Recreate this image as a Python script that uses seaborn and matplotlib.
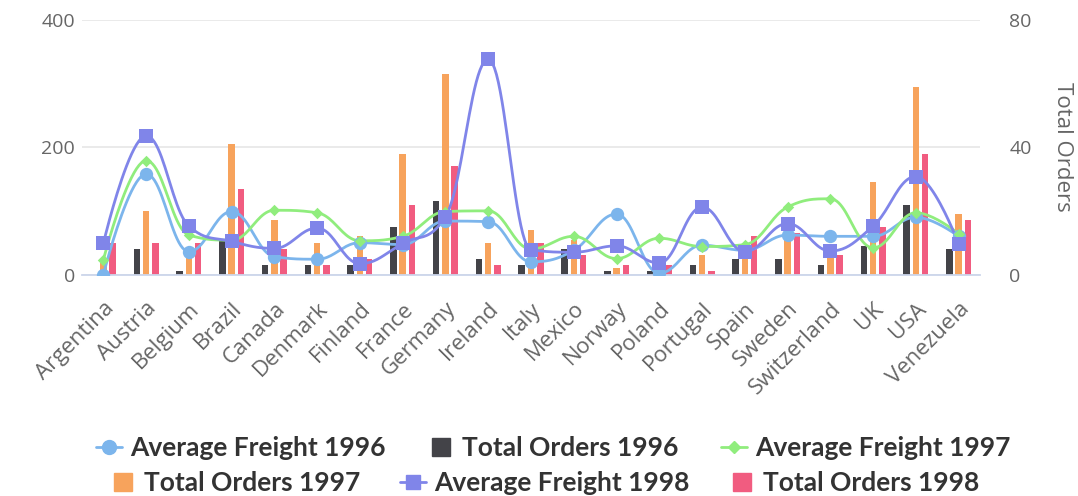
import numpy as np
import pandas as pd
import seaborn as sns
import matplotlib.pyplot as plt
from matplotlib.lines import Line2D

countries = ["Argentina", "Austria", "Belgium", "Brazil", "Canada", "Denmark", "Finland",
             "France", "Germany", "Ireland", "Italy", "Mexico", "Norway", "Poland",
             "Portugal", "Spain", "Sweden", "Switzerland", "UK", "USA", "Venezuela"]
freight_1996 = [0, 158, 36, 99, 28, 24, 50, 47, 84, 83, 20, 38, 95, 2, 46, 38, 62, 60, 60, 90, 60]
freight_1997 = [23, 179, 62, 54, 101, 97, 53, 60, 99, 100, 40, 60, 25, 57, 44, 47, 106, 119, 42, 97, 64]
freight_1998 = [49, 218, 76, 52, 41, 73, 17, 49, 91, 338, 39, 35, 45, 18, 106, 36, 80, 37, 76, 154, 48]
orders_1996 = [0, 8, 1, 11, 3, 3, 3, 15, 23, 5, 3, 8, 1, 1, 3, 5, 5, 3, 9, 22, 8]
orders_1997 = [5, 20, 6, 41, 17, 10, 12, 38, 63, 10, 14, 11, 2, 1, 6, 5, 14, 7, 29, 59, 19]
orders_1998 = [10, 10, 10, 27, 8, 3, 5, 22, 34, 3, 10, 6, 3, 3, 1, 12, 13, 6, 15, 38, 17]

c_af96, c_to96 = "#7cb5ec", "#434348"
c_af97, c_to97 = "#90ed7d", "#f7a35c"
c_af98, c_to98 = "#8085e9", "#f15c80"


def spline(ys, steps=24):
    # highcharts-like spline through the points
    xs = np.arange(len(ys), dtype=float)
    ys = np.asarray(ys, dtype=float)
    n = len(ys)
    sm = 1.5
    left = [None] * n
    right = [None] * n
    for i in range(1, n - 1):
        px, py = xs[i], ys[i]
        lx, ly = xs[i - 1], ys[i - 1]
        nx, ny = xs[i + 1], ys[i + 1]
        lcx = (sm * px + lx) / (sm + 1)
        lcy = (sm * py + ly) / (sm + 1)
        rcx = (sm * px + nx) / (sm + 1)
        rcy = (sm * py + ny) / (sm + 1)
        corr = ((rcy - lcy) * (rcx - px)) / (rcx - lcx) + py - rcy
        lcy += corr
        rcy += corr
        if lcy > ly and lcy > py:
            lcy = max(ly, py); rcy = 2 * py - lcy
        elif lcy < ly and lcy < py:
            lcy = min(ly, py); rcy = 2 * py - lcy
        if rcy > ny and rcy > py:
            rcy = max(ny, py); lcy = 2 * py - rcy
        elif rcy < ny and rcy < py:
            rcy = min(ny, py); lcy = 2 * py - rcy
        left[i] = (lcx, lcy)
        right[i] = (rcx, rcy)
    t = np.linspace(0, 1, steps)[:, None]
    out = []
    for i in range(n - 1):
        p0 = np.array([xs[i], ys[i]])
        p3 = np.array([xs[i + 1], ys[i + 1]])
        p1 = np.array(right[i]) if right[i] is not None else p0
        p2 = np.array(left[i + 1]) if left[i + 1] is not None else p3
        seg = ((1 - t) ** 3) * p0 + 3 * ((1 - t) ** 2) * t * p1 + 3 * (1 - t) * t ** 2 * p2 + t ** 3 * p3
        out.append(seg if i == 0 else seg[1:])
    out = np.vstack(out)
    return out[:, 0], out[:, 1]


sns.set_style("white")
plt.rcParams["font.family"] = ["Open Sans", "DejaVu Sans"]

fig = plt.figure(figsize=(10.78, 4.96), dpi=100)
ax = fig.add_axes([82 / 1078, 1 - 274.5 / 496, 898 / 1078, 254.5 / 496])

orders = pd.DataFrame({
    "country": countries * 3,
    "year": ["1996"] * 21 + ["1997"] * 21 + ["1998"] * 21,
    "orders": orders_1996 + orders_1997 + orders_1998,
})
sns.barplot(data=orders, x="country", y="orders", hue="year",
            palette=[c_to96, c_to97, c_to98], saturation=1, width=0.65, gap=0.3,
            linewidth=0, legend=False, ax=ax)

ax2 = ax.twinx()
for vals, col, mk, size in [(freight_1996, c_af96, "o", 92),
                            (freight_1997, c_af97, "D", 34),
                            (freight_1998, c_af98, "s", 112)]:
    cx, cy = spline(vals)
    sns.lineplot(x=cx, y=cy, sort=False, estimator=None, color=col, lw=2.0, ax=ax2)
    sns.scatterplot(x=np.arange(len(vals)), y=vals, marker=mk, s=size, color=col,
                    linewidth=0, ax=ax2, zorder=3)

ax.set_xlim(-0.5, 20.5)
ax.set_ylim(0, 80)
ax2.set_ylim(0, 400)

# bars axis on right, freight axis on left
ax.yaxis.tick_right()
ax.yaxis.set_label_position("right")
ax2.yaxis.tick_left()
ax.set_yticks([0, 40, 80])
ax2.set_yticks([0, 200, 400])
ax.tick_params(axis="y", length=0, labelsize=14, labelcolor="#666666", pad=21)
ax2.tick_params(axis="y", length=0, labelsize=14, labelcolor="#666666", pad=5)
ax.set_ylabel("Total Orders", rotation=270, fontsize=16, color="#666666", labelpad=30)
ax2.set_ylabel("")
ax.set_xlabel("")

ax.grid(axis="y", color="#e6e6e6", lw=1.2)
ax.set_axisbelow(True)

ax.set_xticks(np.arange(21))
ax.set_xticks(np.arange(-0.5, 21, 1), minor=True)
ax.set_xticklabels(countries, rotation=45, ha="right", rotation_mode="anchor",
                   fontsize=16, color="#666666")
ax.tick_params(axis="x", which="major", length=0, pad=17)
ax.tick_params(axis="x", which="minor", length=12, width=1.2, color="#ccd6eb")

for a in (ax, ax2):
    for s in ["top", "left", "right"]:
        a.spines[s].set_visible(False)
ax.spines["bottom"].set_color("#ccd6eb")
ax.spines["bottom"].set_linewidth(1.3)
ax2.spines["bottom"].set_visible(False)

legend_font = {"family": ["Lato", "DejaVu Sans"], "weight": "bold", "size": 19}


def line_handle(col, mk, ms):
    return Line2D([], [], color=col, lw=2.0, marker=mk, markersize=ms)


def bar_handle(col):
    return Line2D([], [], color=col, lw=0, marker="s", markersize=13)


row1 = [line_handle(c_af96, "o", 10), bar_handle(c_to96), line_handle(c_af97, "D", 6)]
row2 = [bar_handle(c_to97), line_handle(c_af98, "s", 10), bar_handle(c_to98)]
fig.legend(row1, ["Average Freight 1996", "Total Orders 1996", "Average Freight 1997"],
           loc="center", bbox_to_anchor=(0.513, 0.097), ncol=3, frameon=False,
           prop=legend_font, handlelength=1.0, handletextpad=0.3, columnspacing=1.6,
           labelcolor="#333333")
fig.legend(row2, ["Total Orders 1997", "Average Freight 1998", "Total Orders 1998"],
           loc="center", bbox_to_anchor=(0.505, 0.026), ncol=3, frameon=False,
           prop=legend_font, handlelength=1.0, handletextpad=0.3, columnspacing=1.5,
           labelcolor="#333333")

fig.savefig("out.png", dpi=100)
